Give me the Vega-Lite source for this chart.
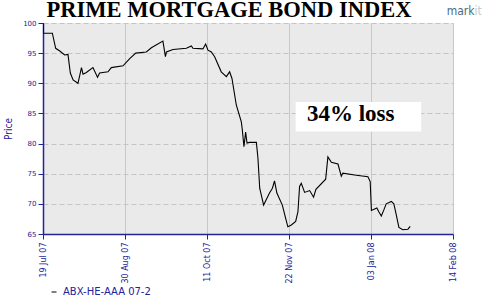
{
  "$schema": "https://vega.github.io/schema/vega-lite/v6.json",
  "width": 410,
  "height": 211,
  "autosize": "none",
  "padding": {"left": 43, "top": 23, "right": 38, "bottom": 63},
  "background": "white",
  "title": {
    "text": "PRIME MORTGAGE BOND INDEX",
    "font": "Liberation Serif",
    "fontSize": 22.5,
    "fontWeight": "bold",
    "color": "black",
    "anchor": "middle",
    "frame": "group",
    "dx": -19,
    "offset": 0,
    "dy": 16
  },
  "config": {
    "view": {"fill": "#eaeaea", "stroke": null},
    "axis": {
      "domainColor": "#22229a",
      "tickColor": "#22229a",
      "labelColor": "#22229a",
      "titleColor": "#22229a",
      "labelFont": "DejaVu Sans",
      "titleFont": "DejaVu Sans Condensed",
      "domainWidth": 1.5,
      "labelOverlap": false
    }
  },
  "datasets": {
    "prices": [
      {"date": "2007-07-19T00:00", "price": 100, "series": "ABX-HE-AAA 07-2"},
      {"date": "2007-07-19T05:00", "price": 98.3, "series": "ABX-HE-AAA 07-2"},
      {"date": "2007-07-23T19:00", "price": 98.3, "series": "ABX-HE-AAA 07-2"},
      {"date": "2007-07-25T12:00", "price": 95.8, "series": "ABX-HE-AAA 07-2"},
      {"date": "2007-07-27T14:00", "price": 95.35, "series": "ABX-HE-AAA 07-2"},
      {"date": "2007-07-30T02:00", "price": 94.7, "series": "ABX-HE-AAA 07-2"},
      {"date": "2007-07-31T19:00", "price": 94.8, "series": "ABX-HE-AAA 07-2"},
      {"date": "2007-08-02T00:00", "price": 91.7, "series": "ABX-HE-AAA 07-2"},
      {"date": "2007-08-03T10:00", "price": 90.55, "series": "ABX-HE-AAA 07-2"},
      {"date": "2007-08-05T22:00", "price": 90.0, "series": "ABX-HE-AAA 07-2"},
      {"date": "2007-08-07T17:00", "price": 92.6, "series": "ABX-HE-AAA 07-2"},
      {"date": "2007-08-08T12:00", "price": 91.5, "series": "ABX-HE-AAA 07-2"},
      {"date": "2007-08-10T05:00", "price": 91.8, "series": "ABX-HE-AAA 07-2"},
      {"date": "2007-08-13T14:00", "price": 92.6, "series": "ABX-HE-AAA 07-2"},
      {"date": "2007-08-15T22:00", "price": 91.0, "series": "ABX-HE-AAA 07-2"},
      {"date": "2007-08-17T00:00", "price": 91.7, "series": "ABX-HE-AAA 07-2"},
      {"date": "2007-08-21T07:00", "price": 91.9, "series": "ABX-HE-AAA 07-2"},
      {"date": "2007-08-23T00:00", "price": 92.6, "series": "ABX-HE-AAA 07-2"},
      {"date": "2007-08-29T00:00", "price": 92.9, "series": "ABX-HE-AAA 07-2"},
      {"date": "2007-09-01T10:00", "price": 94.1, "series": "ABX-HE-AAA 07-2"},
      {"date": "2007-09-04T12:00", "price": 95.0, "series": "ABX-HE-AAA 07-2"},
      {"date": "2007-09-09T22:00", "price": 95.2, "series": "ABX-HE-AAA 07-2"},
      {"date": "2007-09-12T12:00", "price": 95.9, "series": "ABX-HE-AAA 07-2"},
      {"date": "2007-09-18T10:00", "price": 97.0, "series": "ABX-HE-AAA 07-2"},
      {"date": "2007-09-19T17:00", "price": 94.4, "series": "ABX-HE-AAA 07-2"},
      {"date": "2007-09-20T05:00", "price": 95.2, "series": "ABX-HE-AAA 07-2"},
      {"date": "2007-09-23T14:00", "price": 95.6, "series": "ABX-HE-AAA 07-2"},
      {"date": "2007-09-30T10:00", "price": 95.8, "series": "ABX-HE-AAA 07-2"},
      {"date": "2007-10-03T00:00", "price": 96.2, "series": "ABX-HE-AAA 07-2"},
      {"date": "2007-10-03T19:00", "price": 95.8, "series": "ABX-HE-AAA 07-2"},
      {"date": "2007-10-08T22:00", "price": 95.7, "series": "ABX-HE-AAA 07-2"},
      {"date": "2007-10-10T07:00", "price": 96.5, "series": "ABX-HE-AAA 07-2"},
      {"date": "2007-10-11T12:00", "price": 95.5, "series": "ABX-HE-AAA 07-2"},
      {"date": "2007-10-13T05:00", "price": 95.2, "series": "ABX-HE-AAA 07-2"},
      {"date": "2007-10-14T22:00", "price": 94.4, "series": "ABX-HE-AAA 07-2"},
      {"date": "2007-10-18T07:00", "price": 91.9, "series": "ABX-HE-AAA 07-2"},
      {"date": "2007-10-20T22:00", "price": 91.1, "series": "ABX-HE-AAA 07-2"},
      {"date": "2007-10-22T14:00", "price": 91.9, "series": "ABX-HE-AAA 07-2"},
      {"date": "2007-10-23T19:00", "price": 90.8, "series": "ABX-HE-AAA 07-2"},
      {"date": "2007-10-26T00:00", "price": 86.4, "series": "ABX-HE-AAA 07-2"},
      {"date": "2007-10-28T14:00", "price": 83.6, "series": "ABX-HE-AAA 07-2"},
      {"date": "2007-10-29T02:00", "price": 82.3, "series": "ABX-HE-AAA 07-2"},
      {"date": "2007-10-29T22:00", "price": 79.5, "series": "ABX-HE-AAA 07-2"},
      {"date": "2007-10-30T19:00", "price": 81.9, "series": "ABX-HE-AAA 07-2"},
      {"date": "2007-10-31T12:00", "price": 80.1, "series": "ABX-HE-AAA 07-2"},
      {"date": "2007-11-01T19:00", "price": 80.2, "series": "ABX-HE-AAA 07-2"},
      {"date": "2007-11-05T07:00", "price": 80.2, "series": "ABX-HE-AAA 07-2"},
      {"date": "2007-11-06T02:00", "price": 77.6, "series": "ABX-HE-AAA 07-2"},
      {"date": "2007-11-07T00:00", "price": 72.6, "series": "ABX-HE-AAA 07-2"},
      {"date": "2007-11-09T00:00", "price": 69.8, "series": "ABX-HE-AAA 07-2"},
      {"date": "2007-11-12T00:00", "price": 71.8, "series": "ABX-HE-AAA 07-2"},
      {"date": "2007-11-13T12:00", "price": 72.6, "series": "ABX-HE-AAA 07-2"},
      {"date": "2007-11-14T14:00", "price": 73.8, "series": "ABX-HE-AAA 07-2"},
      {"date": "2007-11-15T19:00", "price": 71.8, "series": "ABX-HE-AAA 07-2"},
      {"date": "2007-11-18T14:00", "price": 69.8, "series": "ABX-HE-AAA 07-2"},
      {"date": "2007-11-20T07:00", "price": 67.6, "series": "ABX-HE-AAA 07-2"},
      {"date": "2007-11-21T10:00", "price": 66.2, "series": "ABX-HE-AAA 07-2"},
      {"date": "2007-11-23T05:00", "price": 66.5, "series": "ABX-HE-AAA 07-2"},
      {"date": "2007-11-25T10:00", "price": 67.1, "series": "ABX-HE-AAA 07-2"},
      {"date": "2007-11-26T14:00", "price": 68.7, "series": "ABX-HE-AAA 07-2"},
      {"date": "2007-11-27T10:00", "price": 72.9, "series": "ABX-HE-AAA 07-2"},
      {"date": "2007-11-28T07:00", "price": 73.4, "series": "ABX-HE-AAA 07-2"},
      {"date": "2007-11-30T00:00", "price": 71.9, "series": "ABX-HE-AAA 07-2"},
      {"date": "2007-12-02T14:00", "price": 72.2, "series": "ABX-HE-AAA 07-2"},
      {"date": "2007-12-04T14:00", "price": 71.1, "series": "ABX-HE-AAA 07-2"},
      {"date": "2007-12-05T19:00", "price": 72.4, "series": "ABX-HE-AAA 07-2"},
      {"date": "2007-12-10T19:00", "price": 74.1, "series": "ABX-HE-AAA 07-2"},
      {"date": "2007-12-11T22:00", "price": 77.8, "series": "ABX-HE-AAA 07-2"},
      {"date": "2007-12-13T17:00", "price": 76.9, "series": "ABX-HE-AAA 07-2"},
      {"date": "2007-12-17T02:00", "price": 76.6, "series": "ABX-HE-AAA 07-2"},
      {"date": "2007-12-18T19:00", "price": 74.6, "series": "ABX-HE-AAA 07-2"},
      {"date": "2007-12-19T14:00", "price": 75.1, "series": "ABX-HE-AAA 07-2"},
      {"date": "2007-12-26T12:00", "price": 74.75, "series": "ABX-HE-AAA 07-2"},
      {"date": "2008-01-01T10:00", "price": 74.5, "series": "ABX-HE-AAA 07-2"},
      {"date": "2008-01-02T14:00", "price": 73.7, "series": "ABX-HE-AAA 07-2"},
      {"date": "2008-01-03T05:00", "price": 68.9, "series": "ABX-HE-AAA 07-2"},
      {"date": "2008-01-06T00:00", "price": 69.3, "series": "ABX-HE-AAA 07-2"},
      {"date": "2008-01-07T00:00", "price": 68.7, "series": "ABX-HE-AAA 07-2"},
      {"date": "2008-01-08T07:00", "price": 68.0, "series": "ABX-HE-AAA 07-2"},
      {"date": "2008-01-09T14:00", "price": 69.0, "series": "ABX-HE-AAA 07-2"},
      {"date": "2008-01-10T19:00", "price": 70.0, "series": "ABX-HE-AAA 07-2"},
      {"date": "2008-01-13T10:00", "price": 70.4, "series": "ABX-HE-AAA 07-2"},
      {"date": "2008-01-14T17:00", "price": 70.0, "series": "ABX-HE-AAA 07-2"},
      {"date": "2008-01-15T22:00", "price": 68.2, "series": "ABX-HE-AAA 07-2"},
      {"date": "2008-01-17T07:00", "price": 66.1, "series": "ABX-HE-AAA 07-2"},
      {"date": "2008-01-19T07:00", "price": 65.7, "series": "ABX-HE-AAA 07-2"},
      {"date": "2008-01-21T22:00", "price": 65.8, "series": "ABX-HE-AAA 07-2"},
      {"date": "2008-01-23T02:00", "price": 66.25, "series": "ABX-HE-AAA 07-2"}
    ],
    "box": [
      {"start": "2007-11-25T10:00", "end": "2008-01-28T17:00", "top": 86.9, "bottom": 82.0, "textDate": "2007-12-01T05:00", "textPrice": 83.8, "label": "34% loss"}
    ],
    "logo": [
      {"date": "2008-02-25T00:00", "price": 101.3, "mark": "mark", "it": "it"}
    ]
  },
  "layer": [
    {
      "data": {"name": "prices"},
      "mark": {"type": "line", "color": "black", "strokeWidth": 1.1, "clip": true},
      "encoding": {
        "x": {
          "field": "date",
          "type": "temporal",
          "scale": {
            "domain": [
              {"year": 2007, "month": 7, "date": 19},
              {"year": 2008, "month": 2, "date": 14}
            ],
            "nice": false
          },
          "axis": {
            "title": null,
            "values": [
              {"year": 2007, "month": 7, "date": 19},
              {"year": 2007, "month": 8, "date": 30},
              {"year": 2007, "month": 10, "date": 11},
              {"year": 2007, "month": 11, "date": 22},
              {"year": 2008, "month": 1, "date": 3},
              {"year": 2008, "month": 2, "date": 14}
            ],
            "format": "%d %b %y",
            "labelAngle": -90,
            "labelFontSize": 8,
            "labelPadding": 3,
            "tickSize": 5,
            "grid": true,
            "gridColor": "#c8c8c8",
            "gridWidth": 1,
            "labelOverlap": false,
            "labelFlush": false
          }
        },
        "y": {
          "field": "price",
          "type": "quantitative",
          "scale": {"domain": [65, 100], "nice": false, "zero": false},
          "axis": {
            "title": "Price",
            "titleFontSize": 10,
            "titleFontWeight": "normal",
            "titlePadding": 9,
            "values": [65, 70, 75, 80, 85, 90, 95, 100],
            "tickCount": 8,
            "labelFontSize": 7,
            "labelPadding": 2,
            "tickSize": 5,
            "grid": true,
            "gridColor": "#c4c4c4",
            "gridDash": [5, 3],
            "labelOverlap": false,
            "labelFlush": false
          }
        },
        "color": {
          "field": "series",
          "type": "nominal",
          "scale": {"range": ["black"]},
          "legend": {
            "title": null,
            "orient": "bottom",
            "direction": "horizontal",
            "offset": -3,
            "padding": 6,
            "symbolType": "stroke",
            "symbolSize": 25,
            "symbolStrokeWidth": 1,
            "labelColor": "#22229a",
            "labelFont": "DejaVu Sans",
            "labelFontSize": 10
          }
        }
      }
    },
    {
      "data": {"name": "box"},
      "mark": {"type": "rect", "color": "white"},
      "encoding": {
        "x": {"field": "start", "type": "temporal"},
        "x2": {"field": "end"},
        "y": {"field": "top", "type": "quantitative"},
        "y2": {"field": "bottom"}
      }
    },
    {
      "data": {"name": "box"},
      "mark": {"type": "text", "font": "Liberation Serif", "fontSize": 23, "fontWeight": "bold", "color": "black", "align": "left", "baseline": "alphabetic"},
      "encoding": {
        "x": {"field": "textDate", "type": "temporal"},
        "y": {"field": "textPrice", "type": "quantitative"},
        "text": {"field": "label"}
      }
    },
    {
      "data": {"name": "logo"},
      "mark": {"type": "text", "font": "DejaVu Sans Condensed", "fontSize": 12, "color": "#4d6b7d", "align": "right", "baseline": "alphabetic", "clip": false},
      "encoding": {
        "x": {"field": "date", "type": "temporal"},
        "y": {"field": "price", "type": "quantitative"},
        "text": {"field": "mark"}
      }
    },
    {
      "data": {"name": "logo"},
      "mark": {"type": "text", "font": "DejaVu Sans Condensed", "fontSize": 12, "color": "#c5cdd2", "align": "left", "baseline": "alphabetic", "clip": false},
      "encoding": {
        "x": {"field": "date", "type": "temporal"},
        "y": {"field": "price", "type": "quantitative"},
        "text": {"field": "it"}
      }
    }
  ]
}
